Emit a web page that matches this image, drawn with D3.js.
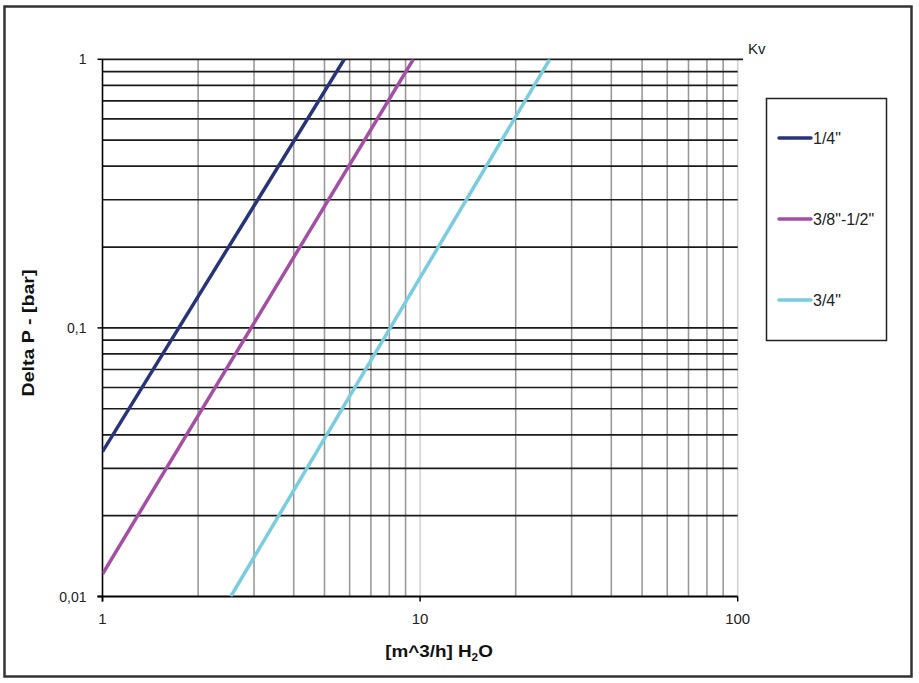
<!DOCTYPE html>
<html><head><meta charset="utf-8">
<script src="https://cdn.jsdelivr.net/npm/d3@7"></script>
<style>body{margin:0;background:#fff}svg{display:block;font-family:"Liberation Sans",Arial,sans-serif}</style>
</head><body><svg id="c" width="919" height="683"></svg>
<script>
const seriesNames = ['1/4"', '3/8"-1/2"', '3/4"'];
const seriesColors = ['#283479', '#a44fa5', '#7accdf'];
// [flow m^3/h, delta P bar] end points (straight lines on log-log)
const series14 = [[1, 0.0346], [5.77, 1]];
const series38 = [[1, 0.01213], [9.52, 1]];
const series34 = [[2.534, 0.01], [25.6, 1]];
const yTickLabels = [[1, '1'], [0.1, '0,1'], [0.01, '0,01']];
const xTickLabels = [[1, '1'], [10, '10'], [100, '100']];

const svg = d3.select('#c');
const L = 102.5, R = 737.7, T = 59.3, B = 596.5;
const x = d3.scaleLog().domain([1, 100]).range([L, R]);
const y = d3.scaleLog().domain([0.01, 1]).range([B, T]);

// outer frame
svg.append('rect').attr('x', 4.5).attr('y', 6.5).attr('width', 907).attr('height', 670)
  .attr('fill', 'none').attr('stroke', '#333').attr('stroke-width', 2.5);

// vertical gridlines
const xMinor = [];
for (const d of [1, 10]) for (let k = 2; k <= 10; k++) xMinor.push(d * k);
svg.append('g').selectAll('line').data(xMinor).join('line')
  .attr('x1', d => x(d)).attr('x2', d => x(d)).attr('y1', T).attr('y2', B)
  .attr('stroke', d => (d === 10 || d === 100) ? '#d4d4d4' : '#9a9a9a').attr('stroke-width', 1.6);

// horizontal gridlines
const yGrid = [];
for (const d of [0.01, 0.1]) for (let k = 2; k <= 10; k++) yGrid.push(+(d * k).toFixed(3));
svg.append('g').selectAll('line').data(yGrid).join('line')
  .attr('x1', L).attr('x2', d => d === 1 ? 743 : R).attr('y1', d => y(d)).attr('y2', d => y(d))
  .attr('stroke', '#1a1a1a').attr('stroke-width', 1.7);

// axes
svg.append('line').attr('x1', L).attr('x2', L).attr('y1', T).attr('y2', B + 5).attr('stroke', '#000').attr('stroke-width', 1.6);
svg.append('line').attr('x1', L - 5).attr('x2', R).attr('y1', B).attr('y2', B).attr('stroke', '#000').attr('stroke-width', 1.8);

// y ticks
const yt = svg.append('g');
yTickLabels.forEach(([v, t]) => {
  yt.append('line').attr('x1', L - 5).attr('x2', L).attr('y1', y(v)).attr('y2', y(v)).attr('stroke', '#000').attr('stroke-width', 1.5);
  yt.append('text').attr('x', L - 16).attr('y', y(v) + 5).attr('text-anchor', 'end').attr('font-size', 14).attr('fill', '#222').text(t);
});
// x ticks
xTickLabels.forEach(([v, t]) => {
  yt.append('line').attr('x1', x(v)).attr('x2', x(v)).attr('y1', B).attr('y2', B + 5).attr('stroke', '#000').attr('stroke-width', 1.5);
  yt.append('text').attr('x', x(v)).attr('y', B + 27).attr('text-anchor', 'middle').attr('font-size', 15).attr('fill', '#222').text(t);
});

// Kv label
svg.append('text').attr('x', 748).attr('y', 54).attr('font-size', 15).attr('fill', '#222').text('Kv');

// axis titles
svg.append('text').attr('transform', `translate(34,333) rotate(-90)`).attr('text-anchor', 'middle')
  .attr('font-size', 16).attr('font-weight', 'bold').attr('fill', '#111')
  .attr('textLength', 127).attr('lengthAdjust', 'spacingAndGlyphs').text('Delta P - [bar]');
const xt = svg.append('text').attr('transform', 'translate(439,657) scale(1.18,1)').attr('text-anchor', 'middle')
  .attr('font-size', 16).attr('font-weight', 'bold').attr('fill', '#111');
xt.append('tspan').text('[m^3/h] H');
xt.append('tspan').attr('font-size', 10).attr('dy', 4).text('2');
xt.append('tspan').attr('dy', -4).text('O');

// series
svg.append('clipPath').attr('id', 'clip').append('rect').attr('x', L).attr('y', T).attr('width', R - L).attr('height', B - T);
const line = d3.line().x(d => x(d[0])).y(d => y(d[1]));
const all = [series14, series38, series34];
svg.append('g').attr('clip-path', 'url(#clip)').selectAll('path').data(all).join('path')
  .attr('d', line).attr('fill', 'none').attr('stroke', (d, i) => seriesColors[i]).attr('stroke-width', 3.5);

// legend
svg.append('rect').attr('x', 766.5).attr('y', 98.5).attr('width', 120).attr('height', 242)
  .attr('fill', '#fff').attr('stroke', '#222').attr('stroke-width', 1.5);
const ly = [138, 219, 300];
seriesNames.forEach((n, i) => {
  svg.append('line').attr('x1', 779).attr('x2', 811).attr('y1', ly[i]).attr('y2', ly[i])
    .attr('stroke', seriesColors[i]).attr('stroke-width', 3.5).attr('stroke-linecap', 'round');
  svg.append('text').attr('x', 813).attr('y', ly[i] + 5.5).attr('font-size', 16).attr('fill', '#222').text(n);
});
</script></body></html>
